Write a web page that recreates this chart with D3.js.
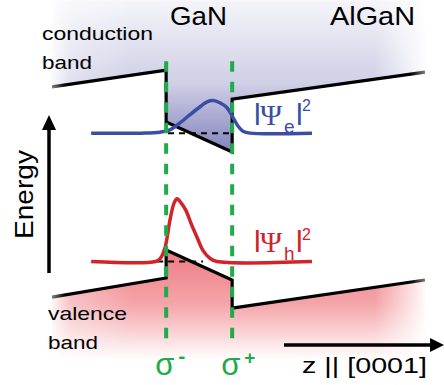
<!DOCTYPE html>
<html>
<head>
<meta charset="utf-8">
<script src="https://d3js.org/d3.v7.min.js"></script>
<style>
    body { margin: 0; background: #fff; }
    svg { display: block; font-family: "Liberation Sans", Arial, sans-serif; }
</style>
</head>
<body>
<script>
    // band diagram data: position z (0-100) and energy (0-10)
    const interfaces = [30.6, 48.3];
    const conductionBand = [[0, 7.82], [30.6, 8.33], [30.6, 6.76], [48.3, 5.85], [48.3, 7.45], [100, 8.27]];
    const valenceBand = [[0, 1.45], [30.6, 2.03], [30.6, 2.88], [48.3, 1.97], [48.3, 1.12], [100, 1.97]];

    // confined levels and their extent (dashed)
    const electronLevel = 6.42, electronLevelExtent = [31.1, 48.3];
    const holeLevel = 2.53, holeLevelExtent = [28.2, 40.5];

    // |psi|^2, as offset above the level
    const psiEz = [10.5, 24.0, 29.0, 31.6, 34.3, 37.0, 39.7, 41.6, 43.2, 45.0, 46.9, 48.5, 49.9, 51.2, 53.1, 69.7];
    const psiE  = [0, 0, 0.03, 0.1, 0.31, 0.56, 0.8, 0.95, 0.99, 0.92, 0.77, 0.48, 0.21, 0.06, 0, 0];
    const psiHz = [10.5, 27.8, 29.0, 30.3, 31.6, 32.7, 33.5, 34.6, 35.9, 37.3, 38.9, 40.5, 42.4, 44.2, 69.7];
    const psiH  = [0, 0, 0.09, 0.42, 1.24, 1.76, 1.9, 1.78, 1.55, 1.15, 0.73, 0.33, 0.09, 0, 0];

    const W = 444, H = 385;
    const x = d3.scaleLinear().domain([0, 100]).range([52, 425]);
    const y = d3.scaleLinear().domain([0, 10]).range([345, 15]);

    const blue = "#3b4ea3", red = "#d2232a", green = "#1faa4b";

    const svg = d3.select("body").append("svg").attr("width", W).attr("height", H);
    const defs = svg.append("defs");

    function grad(id, attrs, stops) {
        const g = defs.append("linearGradient").attr("id", id).attr("gradientUnits", "userSpaceOnUse");
        Object.entries(attrs).forEach(([k, v]) => g.attr(k, v));
        stops.forEach(s => g.append("stop").attr("offset", s[0]).attr("stop-color", s[1]));
    }
    grad("cbGrad", {x1: 0, x2: 0, y1: 0, y2: y(5.85)}, [[0, "#f5f5fa"], [0.55, "#cfcfe6"], [1, "#8383bc"]]);
    grad("vbGrad", {x1: 0, x2: 0, y1: y(2.9), y2: y(-0.45)}, [[0, "#ee7a82"], [0.5, "#f4a6aa"], [1, "#ffffff"]]);
    // soft fade at the left and right ends of the shading
    grad("fadeFill", {x1: 48, x2: 428, y1: 0, y2: 0}, [[0, "#000"], [0.06, "#aaa"], [0.22, "#fff"], [0.86, "#fff"], [1, "#000"]]);
    grad("fadeLine", {x1: 48, x2: 430, y1: 0, y2: 0}, [[0, "#555"], [0.045, "#fff"], [0.95, "#fff"], [1, "#555"]]);

    defs.append("mask").attr("id", "fillMask").attr("maskUnits", "userSpaceOnUse")
        .attr("x", 0).attr("y", 0).attr("width", W).attr("height", H)
        .append("rect").attr("width", W).attr("height", H).attr("fill", "url(#fadeFill)");
    defs.append("mask").attr("id", "lineMask").attr("maskUnits", "userSpaceOnUse")
        .attr("x", 0).attr("y", 0).attr("width", W).attr("height", H)
        .append("rect").attr("width", W).attr("height", H).attr("fill", "url(#fadeLine)");

    const line = d3.line().x(d => x(d[0])).y(d => y(d[1]));

    // shaded bands
    const fills = svg.append("g").attr("mask", "url(#fillMask)");
    fills.append("path")
        .attr("d", line(conductionBand.concat([[100, 10.45], [0, 10.45]])) + "Z")
        .attr("fill", "url(#cbGrad)");
    fills.append("path")
        .attr("d", line(valenceBand.concat([[100, -0.45], [0, -0.45]])) + "Z")
        .attr("fill", "url(#vbGrad)");

    // band edges
    const bands = svg.append("g").attr("mask", "url(#lineMask)");
    [conductionBand, valenceBand].forEach(b => {
        bands.append("path").attr("d", line(b))
            .attr("fill", "none").attr("stroke", "#000").attr("stroke-width", 3.2);
    });

    // levels
    [[electronLevel, electronLevelExtent], [holeLevel, holeLevelExtent]].forEach(([lv, ext]) => {
        svg.append("line")
            .attr("x1", x(ext[0])).attr("x2", x(ext[1]))
            .attr("y1", y(lv)).attr("y2", y(lv))
            .attr("stroke", "#000").attr("stroke-width", 2).attr("stroke-dasharray", "6 5");
    });

    // wavefunctions
    const psiLine = (zs, vals, lv) => d3.line().curve(d3.curveCatmullRom.alpha(0.5))
        .x((d, i) => x(zs[i])).y(d => y(lv + d))(vals);
    svg.append("path").attr("d", psiLine(psiEz, psiE, electronLevel))
        .attr("fill", "none").attr("stroke", blue).attr("stroke-width", 3.5);
    svg.append("path").attr("d", psiLine(psiHz, psiH, holeLevel))
        .attr("fill", "none").attr("stroke", red).attr("stroke-width", 3.5);

    // interfaces
    interfaces.forEach(z => {
        svg.append("line")
            .attr("x1", x(z)).attr("x2", x(z))
            .attr("y1", y(8.6)).attr("y2", y(0.06))
            .attr("stroke", green).attr("stroke-width", 4).attr("stroke-dasharray", "10.5 10");
    });

    // arrows
    svg.append("line").attr("x1", 49).attr("x2", 49).attr("y1", 273).attr("y2", 128)
        .attr("stroke", "#000").attr("stroke-width", 3.5);
    svg.append("path").attr("d", "M49,115 L42,130 L56,130 Z").attr("fill", "#000");
    svg.append("line").attr("x1", 284).attr("x2", 432).attr("y1", 345).attr("y2", 345)
        .attr("stroke", "#000").attr("stroke-width", 3.5);
    svg.append("path").attr("d", "M444,345 L430,338 L430,352 Z").attr("fill", "#000");

    // text labels
    function label(t, px, py, size, len, color) {
        const el = svg.append("text").attr("x", px).attr("y", py).text(t)
            .attr("font-size", size).attr("fill", color || "#000");
        if (len) el.attr("textLength", len).attr("lengthAdjust", "spacingAndGlyphs");
        return el;
    }
    label("conduction", 42, 39.5, 19, 111);
    label("band", 42, 69, 19, 50);
    label("valence", 48, 320, 19, 79);
    label("band", 48, 349, 19, 50);
    label("GaN", 170, 25, 25, 57);
    label("AlGaN", 330, 25, 25, 85);
    label("z || [0001]", 302, 373, 22, 125);
    svg.append("text").attr("transform", "translate(33,194.5) rotate(-90)")
        .attr("text-anchor", "middle").attr("font-size", 25)
        .attr("textLength", 89).attr("lengthAdjust", "spacingAndGlyphs").text("Energy");

    // sigma labels
    [["σ", "-", interfaces[0]], ["σ", "+", interfaces[1]]].forEach(([s, sup, z]) => {
        const xs = x(z) - 11;
        label(s, xs, 375, 31, null, green);
        label(sup, xs + 23, sup === "-" ? 363 : 364, sup === "-" ? 21 : 19, null, green)
            .attr("font-weight", "bold");
    });

    // |psi|^2 labels, one text per glyph group
    function psiLabel(sub, base, subBase, supBase, color) {
        const g = svg.append("g").attr("fill", color);
        g.append("text").attr("x", 254).attr("y", base).attr("font-size", 30).text("l");
        g.append("text").attr("x", 260).attr("y", base).attr("font-size", 30)
            .attr("font-family", "'Liberation Serif', 'Times New Roman', serif").text("Ψ");
        g.append("text").attr("x", 284).attr("y", subBase).attr("font-size", 19).text(sub);
        g.append("text").attr("x", 296).attr("y", base).attr("font-size", 30).text("l");
        g.append("text").attr("x", 302).attr("y", supBase).attr("font-size", 16).text("2");
    }
    psiLabel("e", 125, 132.5, 111, blue);
    psiLabel("h", 252, 260, 240, red);
</script>
</body>
</html>
